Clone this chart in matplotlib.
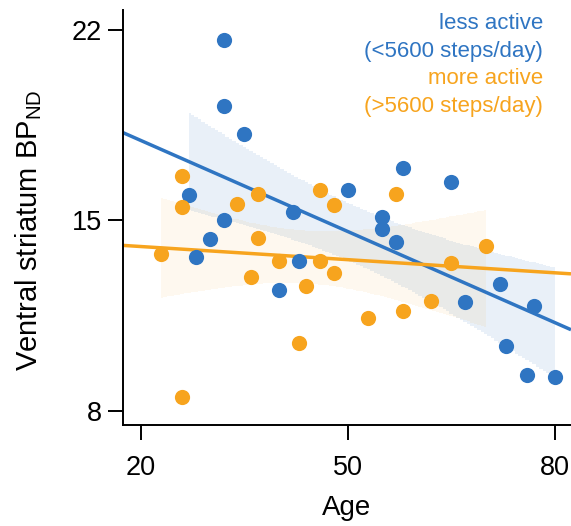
import matplotlib

matplotlib.use("Agg")
import matplotlib.pyplot as plt
import numpy as np

BLUE = "#2f75c2"
ORANGE = "#f7a41e"

# less active (<5600 steps/day)
less_age = [27, 28, 30, 32, 32, 32, 35, 40, 42, 43, 50, 55, 55, 57, 58, 65, 67, 72, 73, 76, 77, 80]
less_bp = [15.91, 13.65, 14.31, 21.63, 19.19, 15.00, 18.18, 12.42, 15.28, 13.49, 16.09,
           15.11, 14.69, 14.20, 16.93, 16.40, 11.99, 12.65, 10.39, 9.29, 11.83, 9.25]

# more active (>5600 steps/day)
more_age = [23, 26, 26, 26, 34, 36, 37, 37, 40, 43, 44, 46, 46, 48, 48, 53, 57, 58, 62, 65, 70]
more_bp = [13.77, 16.61, 15.49, 8.49, 15.58, 12.90, 15.95, 14.35, 13.51, 10.50, 12.59,
           16.09, 13.51, 15.56, 13.04, 11.40, 15.95, 11.67, 12.04, 13.41, 14.06]

legend_lines = [
    ("less active", BLUE),
    ("(<5600 steps/day)", BLUE),
    ("more active", ORANGE),
    ("(>5600 steps/day)", ORANGE),
]

x_ticks = [20, 50, 80]
y_ticks = [8, 15, 22]


def fit_with_band(ax, ages, values, color, band_alpha):
    x = np.asarray(ages, dtype=float)
    y = np.asarray(values, dtype=float)
    slope, intercept = np.polyfit(x, y, 1)
    n = len(x)
    resid = y - (slope * x + intercept)
    s = np.sqrt(np.sum(resid ** 2) / (n - 2))
    sxx = np.sum((x - x.mean()) ** 2)
    grid = np.arange(x.min(), x.max() + 0.25, 0.5)
    fit = slope * grid + intercept
    half = 2.09 * s * np.sqrt(1 / n + (grid - x.mean()) ** 2 / sxx)
    ax.fill_between(grid, fit - half, fit + half, step="mid", color=color,
                    alpha=band_alpha, linewidth=0, zorder=1)
    xs = np.array(ax.get_xlim())
    ax.plot(xs, slope * xs + intercept, color=color, linewidth=2.5, zorder=2,
            solid_capstyle="butt")


def main():
    plt.rcParams.update({
        "font.family": "Liberation Sans",
        "mathtext.fontset": "custom",
        "mathtext.rm": "Liberation Sans",
        "mathtext.it": "Liberation Sans",
    })
    fig = plt.figure(figsize=(5.71, 5.26), dpi=100)
    ax = fig.add_axes([123 / 571, 101 / 526, 448 / 571, 415 / 526])
    ax.set_xlim(17.43, 82.36)
    ax.set_ylim(7.47, 22.72)

    fit_with_band(ax, less_age, less_bp, BLUE, 0.10)
    fit_with_band(ax, more_age, more_bp, ORANGE, 0.07)

    ax.scatter(less_age, less_bp, s=120, color=BLUE, linewidths=0, zorder=3)
    ax.scatter(more_age, more_bp, s=120, color=ORANGE, linewidths=0, zorder=3)

    for side in ("top", "right"):
        ax.spines[side].set_visible(False)
    for side in ("left", "bottom"):
        ax.spines[side].set_linewidth(1.4)

    ax.set_xticks(x_ticks)
    ax.set_yticks(y_ticks)
    ax.tick_params(axis="both", direction="out", length=10.5, width=1.4,
                   labelsize=19.5)
    ax.tick_params(axis="x", pad=11)
    ax.tick_params(axis="y", pad=4.5)

    ax.set_xlabel("Age", fontsize=20, labelpad=10)
    ax.set_ylabel(r"Ventral striatum BP$_{\mathrm{ND}}$", fontsize=21, labelpad=20)
    ax.yaxis.label.set_y(0.47)

    for i, (label, color) in enumerate(legend_lines):
        fig.text(543 / 571, 1 - (29 + 27.7 * i) / 526, label, color=color,
                 fontsize=16, ha="right", va="baseline")

    fig.savefig("out.png", dpi=100)


if __name__ == "__main__":
    main()
